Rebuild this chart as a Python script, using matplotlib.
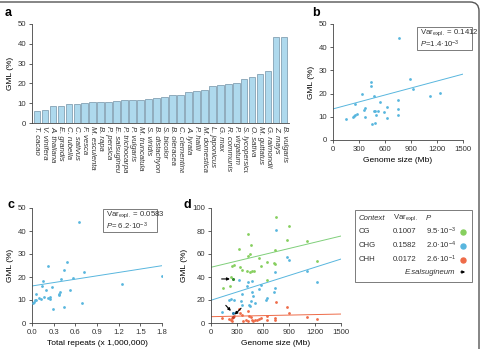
import matplotlib
matplotlib.use('Agg')
import matplotlib.pyplot as plt
import numpy as np
from matplotlib.patches import Rectangle, FancyBboxPatch
from matplotlib.transforms import Bbox, TransformedBbox, IdentityTransform

plt.rcParams['font.family'] = ['Liberation Sans', 'DejaVu Sans']
plt.rcParams['mathtext.fontset'] = 'custom'
plt.rcParams['mathtext.rm'] = 'Liberation Sans'
plt.rcParams['mathtext.it'] = 'Liberation Sans:italic'
plt.rcParams['mathtext.bf'] = 'Liberation Sans:bold'

# ---------------- data ----------------
species = ['T. cacao', 'V. vinifera', 'A. thaliana', 'E. grandis', 'C. rubella', 'C. sativus',
           'F. vesca', 'M. esculenta', 'B. rapa', 'P. persica', 'E. salsugineum', 'P. trichocarpa',
           'P. vulgaris', 'M. truncatula', 'S. viridis', 'B. distachyon', 'S. bicolor', 'B. oleracea',
           'C. clementina', 'A. lyrata', 'P. hallii', 'M. domestica', 'L. japonicus', 'G. max',
           'R. communis', 'P. virgatum', 'S. lycopersicum', 'O. sativa', 'M. guttatus',
           'G. raimondii', 'Z. mays', 'B. vulgaris']
gml = [6.2, 6.6, 8.5, 8.6, 9.5, 9.7, 10.1, 10.6, 10.6, 10.7, 11.0, 11.4, 11.6, 11.6, 12.1, 12.6,
       13.2, 14.2, 14.2, 15.7, 16.1, 16.9, 18.5, 19.2, 19.7, 20.2, 22.0, 23.1, 24.8, 26.3, 43.3, 43.6]

b_genome = [765, 146, 227, 242, 257, 273, 254, 335, 358, 370, 368, 438, 438, 450, 470, 470,
            485, 495, 490, 520, 548, 585, 620, 627, 750, 747, 752, 892, 919, 1123, 1238]
b_gml = [43.8, 8.9, 9.8, 10.3, 10.8, 11.2, 15.5, 19.7, 12.9, 14.0, 10.0, 24.9, 23.3, 6.8, 18.8, 12.3,
         12.3, 10.9, 7.3, 12.6, 16.3, 12.2, 9.5, 14.2, 17.2, 13.3, 10.6, 26.3, 22.0, 19.0, 20.3]
b_fit = (13.4, 0.0100)  # intercept, slope

c_repeats = [0.646, 0.02, 0.025, 0.035, 0.05, 0.055, 0.09, 0.12, 0.15, 0.14, 0.17, 0.19, 0.22,
             0.22, 0.245, 0.255, 0.27, 0.29, 0.37, 0.375, 0.39, 0.40, 0.44, 0.44, 0.485, 0.53,
             0.57, 0.69, 0.715, 1.24, 1.796]
c_gml = [43.9, 8.5, 9.3, 9.8, 10.0, 12.8, 10.9, 10.6, 18.3, 16.0, 11.5, 14.2, 24.6, 10.7, 11.2,
         10.5, 15.6, 6.2, 12.0, 12.7, 13.3, 19.1, 23.2, 6.8, 26.4, 14.2, 19.4, 8.8, 22.0, 17.0, 20.3]
c_fit = (16.1, 4.9)

cg_genome = [754, 903, 429, 872, 1110, 467, 742, 321, 452, 432, 551, 1224, 643, 723, 735, 272, 241,
             578, 340, 356, 452, 480, 495, 413, 237, 226, 138, 643]
cg_gml = [92.5, 84, 77.4, 72.2, 71.3, 67.8, 63.8, 64.3, 60, 58.3, 56.5, 53.6, 52.8, 52.5, 51.5, 50.7,
          49.3, 49.9, 48.7, 45.8, 44.6, 45.5, 44.8, 45, 40.3, 31.9, 30.4, 37.7]
chg_genome = [754, 872, 903, 1110, 1224, 739, 321, 432, 475, 417, 551, 582, 739, 727, 478, 364, 237,
              262, 643, 640, 490, 459, 352, 360, 450, 440, 509, 130, 295, 207]
chg_gml = [80.9, 57.4, 54.8, 45, 36, 44, 37.7, 36, 36.8, 32, 30, 33, 30.4, 27, 26.7, 25.5, 21, 20,
           22, 20, 23.2, 19.4, 19.4, 16, 14.5, 15.5, 17.4, 9.9, 9.3, 20.3]
chh_genome = [754, 872, 903, 1110, 1224, 130, 215, 228, 240, 249, 270, 325, 337, 360, 429, 445, 467,
              470, 490, 509, 536, 559, 582, 400, 430, 643, 643, 735, 735, 371]
chh_gml = [18.3, 13.6, 8.4, 5.5, 3.2, 4.3, 3.5, 2.3, 1.8, 4.0, 6.4, 11.9, 8.7, 7.0, 10.1, 6.4, 5.0,
           2.3, 1.8, 3.0, 3.0, 3.8, 4.6, 3.0, 1.5, 5.8, 2.3, 4.3, 2.3, 2.0]
esal_genome = 253
esal_cg, esal_chg, esal_chh = 38.3, 8.7, 5.6
cg_fit = (48.4, 0.0182)
chg_fit = (19.7, 0.0240)
chh_fit = (5.5, 0.00153)

contexts = ['CG', 'CHG', 'CHH']
var_expl = ['0.1007', '0.1582', '0.0172']
pvals = [r'9.5·10$^{-3}$', r'2.0·10$^{-4}$', r'2.6·10$^{-1}$']

# ---------------- style ----------------
W, H = 484, 349
BLUE = '#58b6de'
GREEN = '#86cf5e'
RED = '#ee6b48'
AX = '#444444'
TS = 5.6


def fx(px):
    return px / W


def fy(py):
    return 1 - py / H


def add_ax(x0, y0, x1, y1):
    ax = fig.add_axes([fx(x0), fy(y1), fx(x1) - fx(x0), fy(y0) - fy(y1)])
    for s in ['top', 'right']:
        ax.spines[s].set_visible(False)
    for s in ['left', 'bottom']:
        ax.spines[s].set_linewidth(0.6)
        ax.spines[s].set_color(AX)
    ax.tick_params(direction='out', length=2.5, width=0.6, color=AX, labelsize=TS,
                   labelcolor='#333333', pad=1.5)
    ax.patch.set_alpha(0)
    return ax


fig = plt.figure(figsize=(W / 100, H / 100), dpi=100)

# figure border
border = FancyBboxPatch((-10, -10), 489, 357, boxstyle='round,pad=0,rounding_size=9',
                        transform=IdentityTransform(), fill=False, ec='#555555', lw=1.0)
fig.patches.append(border)

# ---------------- panel a ----------------
axa = add_ax(32, 24, 289, 123)
xa = np.arange(len(species))
axa.bar(xa, gml, width=0.8, color='#aed9ed', edgecolor='#7393a6', linewidth=0.5)
axa.set_xlim(-0.6, len(species) - 0.4)
axa.set_ylim(0, 50)
axa.set_yticks([0, 10, 20, 30, 40, 50])
axa.set_xticks(xa)
axa.set_xticklabels(species, rotation=270, fontstyle='italic', fontsize=TS, ha='center', va='top')
axa.tick_params(axis='x', length=0, pad=2)
axa.set_ylabel('GML (%)', fontsize=6, labelpad=3)
clip = TransformedBbox(Bbox([[0, fy(173)], [1, 1]]), fig.transFigure)
for lbl in axa.get_xticklabels():
    lbl.set_clip_box(clip)
    lbl.set_clip_on(True)

# ---------------- panel b ----------------
axb = add_ax(333, 24, 463, 140)
axb.scatter(b_genome, b_gml, s=4, color=BLUE, linewidths=0, zorder=3)
xl = np.array([0, 1500])
axb.plot(xl, b_fit[0] + b_fit[1] * xl, color=BLUE, lw=0.7)
axb.set_xlim(0, 1500)
axb.set_ylim(0, 50)
axb.set_xticks(range(0, 1501, 300))
axb.set_yticks(range(0, 51, 10))
axb.set_xlabel('Genome size (Mb)', fontsize=6, labelpad=3)
axb.set_ylabel('GML (%)', fontsize=6, labelpad=3)
fig.patches.append(Rectangle((fx(417), fy(50)), fx(472) - fx(417), fy(27) - fy(50),
                             transform=fig.transFigure, fill=False, ec='#666666', lw=0.6))
fig.text(fx(420), fy(33), r'Var$_{\mathrm{expl.}}$ = 0.1412', fontsize=5.6, va='center', color='#333333')
fig.text(fx(420), fy(44), r'$P$=1.4·10$^{-3}$', fontsize=5.6, va='center', color='#333333')

# ---------------- panel c ----------------
axc = add_ax(32, 208, 162, 323)
axc.scatter(c_repeats, c_gml, s=4, color=BLUE, linewidths=0, zorder=3)
xl = np.array([0, 1.8])
axc.plot(xl, c_fit[0] + c_fit[1] * xl, color=BLUE, lw=0.7)
axc.set_xlim(0, 1.8)
axc.set_ylim(0, 50)
axc.set_xticks(np.round(np.arange(0, 1.81, 0.3), 1))
axc.set_xticklabels(['0.0', '0.3', '0.6', '0.9', '1.2', '1.5', '1.8'])
axc.set_yticks(range(0, 51, 10))
axc.set_xlabel('Total repeats (x 1,000,000)', fontsize=6, labelpad=3)
axc.set_ylabel('GML (%)', fontsize=6, labelpad=3)
fig.patches.append(Rectangle((fx(103), fy(232)), fx(157) - fx(103), fy(209) - fy(232),
                             transform=fig.transFigure, fill=False, ec='#666666', lw=0.6))
fig.text(fx(106), fy(215), r'Var$_{\mathrm{expl.}}$ = 0.0583', fontsize=5.6, va='center', color='#333333')
fig.text(fx(106), fy(226), r'$P$= 6.2·10$^{-3}$', fontsize=5.6, va='center', color='#333333')

# ---------------- panel d ----------------
axd = add_ax(210.7, 208, 341.3, 323)
axd.scatter(cg_genome, cg_gml, s=4, color=GREEN, linewidths=0, zorder=3)
axd.scatter(chg_genome, chg_gml, s=4, color=BLUE, linewidths=0, zorder=3)
axd.scatter(chh_genome, chh_gml, s=4, color=RED, linewidths=0, zorder=3)
axd.scatter([esal_genome], [esal_cg], s=5, color='#2f8a2f', linewidths=0, zorder=4)
axd.scatter([esal_genome], [esal_chg], s=5, color='#2a7fae', linewidths=0, zorder=4)
axd.scatter([esal_genome], [esal_chh], s=5, color='#c0402a', linewidths=0, zorder=4)
xl = np.array([0, 1500])
axd.plot(xl, cg_fit[0] + cg_fit[1] * xl, color='#7fcf7a', lw=0.7)
axd.plot(xl, chg_fit[0] + chg_fit[1] * xl, color=BLUE, lw=0.7)
axd.plot(xl, chh_fit[0] + chh_fit[1] * xl, color=RED, lw=0.7)
ap = dict(arrowstyle='-|>', color='black', lw=0.8, mutation_scale=4, shrinkA=0, shrinkB=2)
axd.annotate('', xy=(esal_genome, esal_cg), xytext=(-8, 0), textcoords='offset points', arrowprops=ap)
axd.annotate('', xy=(esal_genome, esal_chg), xytext=(-5, 5.5), textcoords='offset points', arrowprops=ap)
axd.annotate('', xy=(esal_genome, esal_chh), xytext=(6, 6), textcoords='offset points', arrowprops=ap)
axd.set_xlim(0, 1500)
axd.set_ylim(0, 100)
axd.set_xticks(range(0, 1501, 300))
axd.set_yticks(range(0, 101, 20))
axd.set_xlabel('Genome size (Mb)', fontsize=6, labelpad=3)
axd.set_ylabel('GML (%)', fontsize=6, labelpad=3)

# legend box d
fig.patches.append(Rectangle((fx(355), fy(282)), fx(472) - fx(355), fy(210) - fy(282),
                             transform=fig.transFigure, fill=False, ec='#666666', lw=0.6))
fig.text(fx(359), fy(218), 'Context', fontstyle='italic', fontsize=5.6, va='center', color='#333333')
fig.text(fx(393), fy(218), r'Var$_{\mathrm{expl.}}$', fontsize=5.6, va='center', color='#333333')
fig.text(fx(426), fy(218), 'P', fontstyle='italic', fontsize=5.6, va='center', color='#333333')
row_y = [231.5, 245.5, 259.5]
for ctx, ve, pv, col, ry in zip(contexts, var_expl, pvals, [GREEN, BLUE, RED], row_y):
    fig.text(fx(359), fy(ry), ctx, fontsize=5.6, va='center', color='#333333')
    fig.text(fx(393), fy(ry), ve, fontsize=5.6, va='center', color='#333333')
    fig.text(fx(426), fy(ry), pv, fontsize=5.6, va='center', color='#333333')
    fig.add_artist(plt.Line2D([fx(463)], [fy(ry)], marker='o', markersize=3.6, color=col,
                              transform=fig.transFigure, linestyle='none'))
fig.text(fx(455), fy(272), 'E.salsugineum', fontstyle='italic', fontsize=5.6, va='center',
         ha='right', color='#333333')
fig.add_artist(matplotlib.patches.FancyArrowPatch((fx(458), fy(272)), (fx(468), fy(272)),
                                                  transform=fig.transFigure, arrowstyle='-|>',
                                                  mutation_scale=4, lw=0.8, color='black'))

# panel letters
for letter, px, py in [('a', 5, 12.5), ('b', 312, 13.5), ('c', 7, 205), ('d', 183, 205)]:
    fig.text(fx(px), fy(py), letter, fontsize=9, fontweight='bold', va='center', ha='left')

fig.savefig('out.png', dpi=100)
